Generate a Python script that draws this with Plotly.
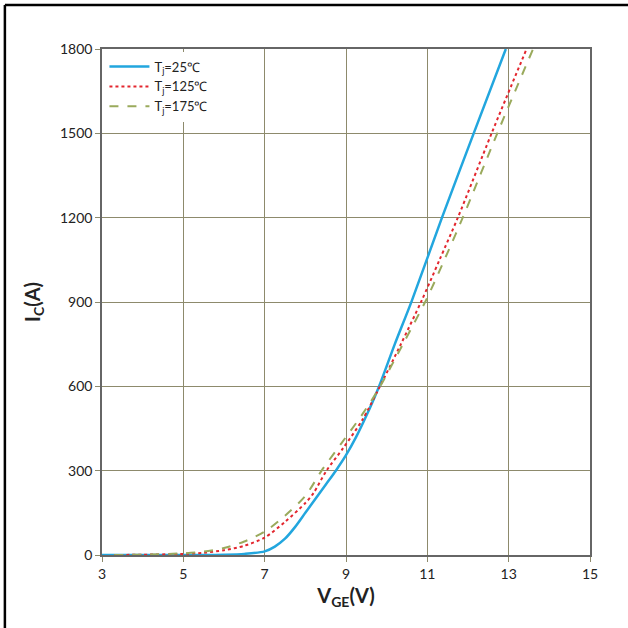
import plotly.graph_objects as go

# Transfer characteristics: Ic vs Vge
vge_25 = [3, 4, 5, 5.5, 6, 6.5, 7, 7.25, 7.5, 7.75, 8, 8.25, 8.5, 8.75, 9, 9.25, 9.5, 9.8, 10.2, 10.62, 11.36, 12.14, 12.93]
ic_25 = [0, 0, 0, 0, 1, 4, 13, 30, 58, 100, 150, 200, 250, 300, 355, 420, 495, 595, 750, 905, 1200, 1500, 1800]

vge_125 = [3.3, 4, 5, 5.5, 6, 6.5, 7, 7.5, 8, 8.2, 8.52, 8.93, 9.4, 9.8, 10.35, 10.86, 11.3, 11.75, 12.58, 13.44]
ic_125 = [0, 1, 4, 8, 17, 33, 62, 118, 185, 220, 300, 380, 480, 590, 750, 905, 1050, 1200, 1500, 1800]

vge_175 = [3.3, 4, 5, 5.5, 6, 6.5, 7, 7.5, 8, 8.4, 8.9, 9.4, 9.8, 10.4, 10.98, 11.45, 11.87, 12.72, 13.6]
ic_175 = [0, 1, 6, 12, 25, 48, 83, 140, 210, 300, 400, 500, 590, 750, 910, 1060, 1200, 1500, 1800]

names = ["T<sub>j</sub>=25℃", "T<sub>j</sub>=125℃", "T<sub>j</sub>=175℃"]
x_ticks = [3, 5, 7, 9, 11, 13, 15]
y_ticks = [0, 300, 600, 900, 1200, 1500, 1800]

fig = go.Figure()
fig.add_trace(go.Scatter(x=vge_25, y=ic_25, mode="lines", name=names[0],
                         line=dict(color="#22a6de", width=2.5, shape="spline", smoothing=0.8)))
fig.add_trace(go.Scatter(x=vge_125, y=ic_125, mode="lines", name=names[1],
                         line=dict(color="#e3262e", width=2, dash="dot", shape="spline", smoothing=0.8)))
fig.add_trace(go.Scatter(x=vge_175, y=ic_175, mode="lines", name=names[2],
                         line=dict(color="#9aaa5c", width=2, dash="dash", shape="spline", smoothing=0.8)))

grid = "#8d8a6c"
fig.update_layout(
    width=628, height=628,
    margin=dict(l=102, r=38, t=49, b=73),
    paper_bgcolor="white", plot_bgcolor="white",
    font=dict(family="Lato, Open Sans, sans-serif", size=14, color="#222"),
    showlegend=True,
    legend=dict(x=0.005, y=0.995, xanchor="left", yanchor="top", bgcolor="white",
                font=dict(size=13, color="#222"), tracegroupgap=0, itemwidth=40),
    xaxis=dict(range=[3, 15], tickvals=x_ticks, showgrid=True, gridcolor=grid, gridwidth=1,
               showline=True, linecolor="#666", linewidth=1.5, mirror=True,
               ticks="outside", ticklen=5, tickcolor=grid, zeroline=False,
               title=dict(text="<b>V<sub>GE</sub>(V)</b>", font=dict(size=20, color="#222"), standoff=8)),
    yaxis=dict(range=[0, 1800], tickvals=y_ticks, showgrid=True, gridcolor=grid, gridwidth=1,
               showline=True, linecolor="#666", linewidth=1.5, mirror=True,
               ticks="outside", ticklen=5, tickcolor=grid, zeroline=False,
               title=dict(text="<b>I<sub>C</sub>(A)</b>", font=dict(size=20, color="#222"), standoff=14)),
    shapes=[
        dict(type="line", xref="paper", yref="paper", x0=-0.199, x1=-0.199, y0=-0.15, y1=1.087,
             line=dict(color="black", width=2.5)),
        dict(type="line", xref="paper", yref="paper", x0=-0.199, x1=1.08, y0=1.087, y1=1.087,
             line=dict(color="black", width=2.5)),
    ],
)

fig.write_html("out.html")
